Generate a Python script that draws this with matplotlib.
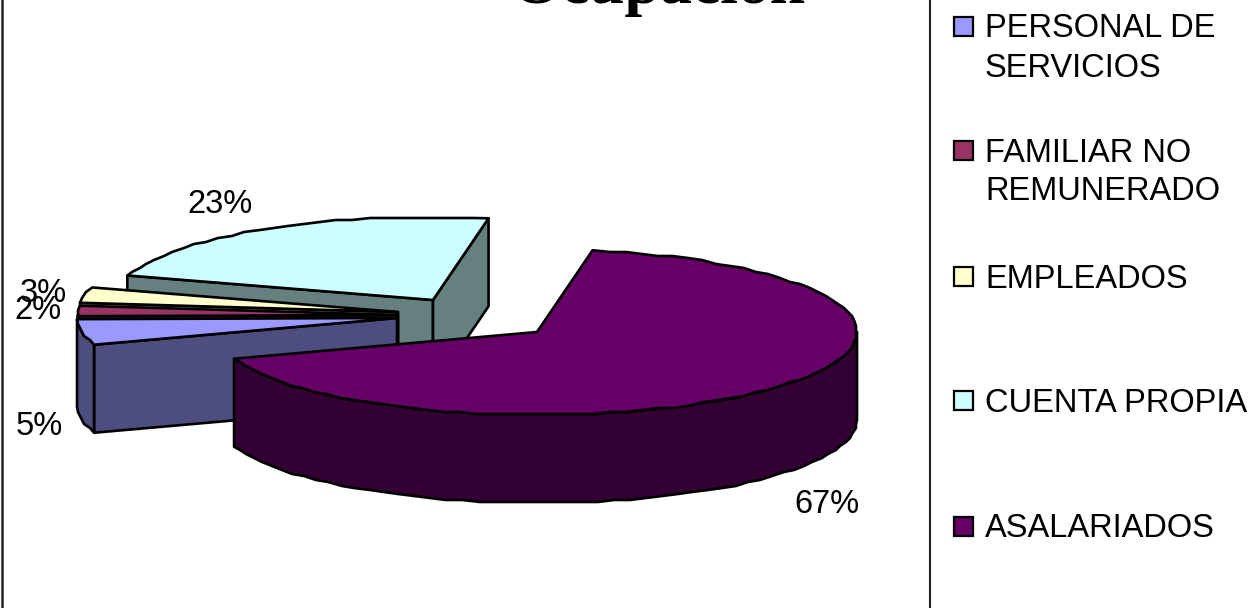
import numpy as np
import matplotlib
matplotlib.use("Agg")
import matplotlib.pyplot as plt
from matplotlib.patches import Polygon, Rectangle

# Occupation shares, clockwise from the start angle
categories = ["ASALARIADOS", "PERSONAL DE\nSERVICIOS", "FAMILIAR NO\nREMUNERADO", "EMPLEADOS", "CUENTA PROPIA"]
values = [67, 5, 2, 3, 23]
top_colors = ["#660066", "#9999FF", "#993366", "#FFFFCC", "#CCFFFF"]
side_colors = ["#330033", "#4D4D80", "#4D1A33", "#808066", "#668080"]
value_labels = ["67%", "5%", "2%", "3%", "23%"]
legend_order = [1, 2, 3, 4, 0]

START_ANGLE = 10
RX, RY, DEPTH = 320, 83, 88
LINE = 1.9
GRID = 2
# Apex of each exploded wedge, in canvas pixels
apexes = [(537, 332), (397, 318), (398, 315), (398, 312), (433, 300)]
label_xy = [(794, 513), (16, 435), (14, 319), (20, 302), (187, 213)]
legend_swatch_y = [17, 141, 267, 391, 517]
legend_baselines = [[37, 77], [162, 200], [288], [412], [537]]

fig = plt.figure(figsize=(12.58, 6.08), dpi=100, facecolor="white")
ax = fig.add_axes([0, 0, 1, 1])
ax.set_xlim(0, 1258)
ax.set_ylim(608, 0)
ax.axis("off")


def rim(apex, a0, a1):
    """Outer edge of a wedge between two clockwise angles, on a coarse pixel grid."""
    n = max(int(abs(a1 - a0) / 3.0), 1) + 1
    t = np.radians(np.linspace(a0, a1, n))
    x = apex[0] + RX * np.sin(t)
    y = apex[1] - RY * np.cos(t)
    x[1:-1] = np.round(x[1:-1] / GRID) * GRID
    y[1:-1] = np.round(y[1:-1] / GRID) * GRID
    return np.column_stack([x, y])


def poly(points, color, z):
    ax.add_patch(Polygon(points, closed=True, facecolor=color, edgecolor="black",
                         linewidth=LINE, joinstyle="round", zorder=z))


def draw_wedge(apex, a0, a1, top, side, z):
    down = np.array([0, DEPTH])
    edge = rim(apex, a0, a1)
    apex = np.array(apex, float)
    # Radial walls that face the viewer
    if np.sin(np.radians(a0)) < 0:
        poly([apex, edge[0], edge[0] + down, apex + down], side, z)
    if np.sin(np.radians(a1)) > 0:
        poly([apex, edge[-1], edge[-1] + down, apex + down], side, z)
    # Curved wall on the near half of the ellipse
    lo, hi = max(a0, 90), min(a1, 270)
    if lo < hi:
        wall = rim(apex, lo, hi)
        poly(np.vstack([wall, (wall + down)[::-1]]), side, z)
    poly(np.vstack([apex, edge]), top, z + 0.5)


spans = np.array(values) / sum(values) * 360
ends = START_ANGLE + np.cumsum(spans)
starts = ends - spans

# Painter's order: rear wedge first, front wedge last
for i in [4, 3, 2, 1, 0]:
    draw_wedge(apexes[i], starts[i], ends[i], top_colors[i], side_colors[i], 2 + (4 - i))

label_font = {"family": "Liberation Sans", "fontsize": 23.5, "color": "black"}
for text, (x, y) in zip(value_labels, label_xy):
    ax.text(x, y, text, ha="left", va="baseline", zorder=20, **label_font)

ax.text(659, 3, "Ocupación", family="Liberation Serif", weight="bold", fontsize=46,
        ha="center", va="baseline", color="black", zorder=20)

# Chart frame
ax.plot([1.5, 1.5], [0, 608], color="#222222", linewidth=1.8, zorder=1)
ax.plot([930, 930], [0, 608], color="#222222", linewidth=1.5, zorder=1)

# Legend
for k, i in enumerate(legend_order):
    ax.add_patch(Rectangle((954, legend_swatch_y[k]), 19, 19, facecolor=top_colors[i],
                           edgecolor="black", linewidth=1.6, zorder=10))
    for line, base in zip(categories[i].split("\n"), legend_baselines[k]):
        ax.text(985, base, line, ha="left", va="baseline", zorder=20, **label_font)

fig.savefig("out.png", dpi=100, facecolor="white")
